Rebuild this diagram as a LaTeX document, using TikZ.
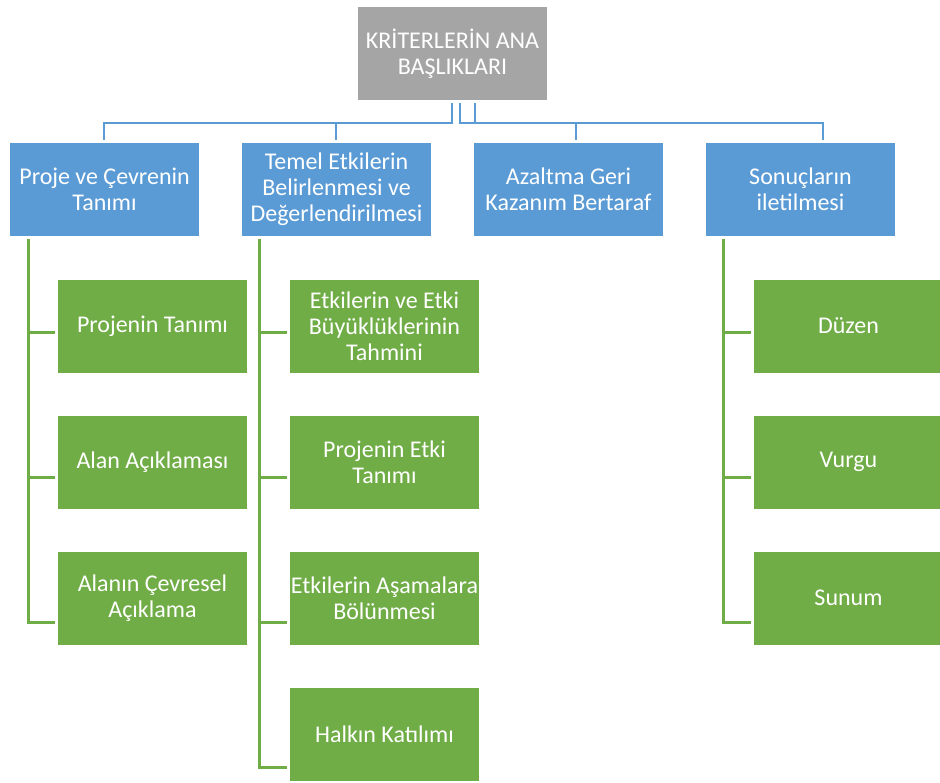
\documentclass[tikz,border=0pt]{standalone}
\usepackage{fontspec}
\setmainfont{Carlito}
\usetikzlibrary{calc}
\definecolor{boxblue}{HTML}{5B9BD5}
\definecolor{boxgreen}{HTML}{70AD47}
\definecolor{boxgrey}{HTML}{A5A5A5}

\begin{document}
\begin{tikzpicture}[x=1pt,y=-1pt,
  box/.style={minimum width=189pt, minimum height=93pt, inner sep=0pt,
    align=center, text=white, font=\fontsize{24}{26}\selectfont},
  topbox/.style={box, fill=boxgrey},
  headbox/.style={box, fill=boxblue},
  leafbox/.style={box, fill=boxgreen},
  blink/.style={draw=boxblue, line width=2.5pt},
  glink/.style={draw=boxgreen, line width=3pt},
]
\useasboundingbox (0,0) rectangle (940,782);
\clip (0,0) rectangle (940,782);

% root
\node[topbox] (root) at (452.5,53.5) {KRİTERLERİN ANA\\BAŞLIKLARI};

% main headings
\node[headbox] (h1) at (104.5,189.5) {Proje ve Çevrenin\\Tanımı};
\node[headbox] (h2) at (336.5,189.5) {Temel Etkilerin\\Belirlenmesi ve\\Değerlendirilmesi};
\node[headbox] (h3) at (568.5,189.5) {Azaltma Geri\\Kazanım Bertaraf};
\node[headbox] (h4) at (800.5,189.5) {Sonuçların\\iletilmesi};

% first column
\node[leafbox] (a1) at (152.5,326) {Projenin Tanımı};
\node[leafbox] (a2) at (152.5,462) {Alan Açıklaması};
\node[leafbox] (a3) at (152.5,598) {Alanın Çevresel\\Açıklama};

% second column
\node[leafbox] (b1) at (384.5,326) {Etkilerin ve Etki\\Büyüklüklerinin\\Tahmini};
\node[leafbox] (b2) at (384.5,462) {Projenin Etki\\Tanımı};
\node[leafbox] (b3) at (384.5,598) {Etkilerin Aşamalara\\Bölünmesi};
\node[leafbox] (b4) at (384.5,734) {Halkın Katılımı};

% fourth column
\node[leafbox] (d1) at (848.5,326) {Düzen};
\node[leafbox] (d2) at (848.5,462) {Vurgu};
\node[leafbox] (d3) at (848.5,598) {Sunum};

% root to headings
\draw[blink] ([xshift=-0.5pt,yshift=-3pt]root.south) -- ++(0,20) -| ([xshift=-0.5pt,yshift=3pt]h1.north);
\draw[blink] ([xshift=-0.5pt,yshift=-3pt]root.south) -- ++(0,20) -| ([xshift=-0.5pt,yshift=3pt]h2.north);
\draw[blink] ([xshift=7.5pt,yshift=-3pt]root.south) -- ++(0,20) -| ([xshift=7.5pt,yshift=3pt]h3.north);
\draw[blink] ([xshift=22.5pt,yshift=-3pt]root.south) -- ++(0,20) -| ([xshift=22.5pt,yshift=3pt]h4.north);

% headings to leaves
\foreach \leaf/\dy in {a1/6,a2/15,a3/24}
  \draw[glink] ([xshift=-76.5pt,yshift=-3pt]h1.south) |- ([xshift=-3pt,yshift=-\dy pt]\leaf.west);
\foreach \leaf/\dy in {b1/6,b2/15,b3/24,b4/33}
  \draw[glink] ([xshift=-77.5pt,yshift=-3pt]h2.south) |- ([xshift=-3pt,yshift=-\dy pt]\leaf.west);
\foreach \leaf/\dy in {d1/6,d2/15,d3/24}
  \draw[glink] ([xshift=-77.5pt,yshift=-3pt]h4.south) |- ([xshift=-3pt,yshift=-\dy pt]\leaf.west);
\end{tikzpicture}
\end{document}
